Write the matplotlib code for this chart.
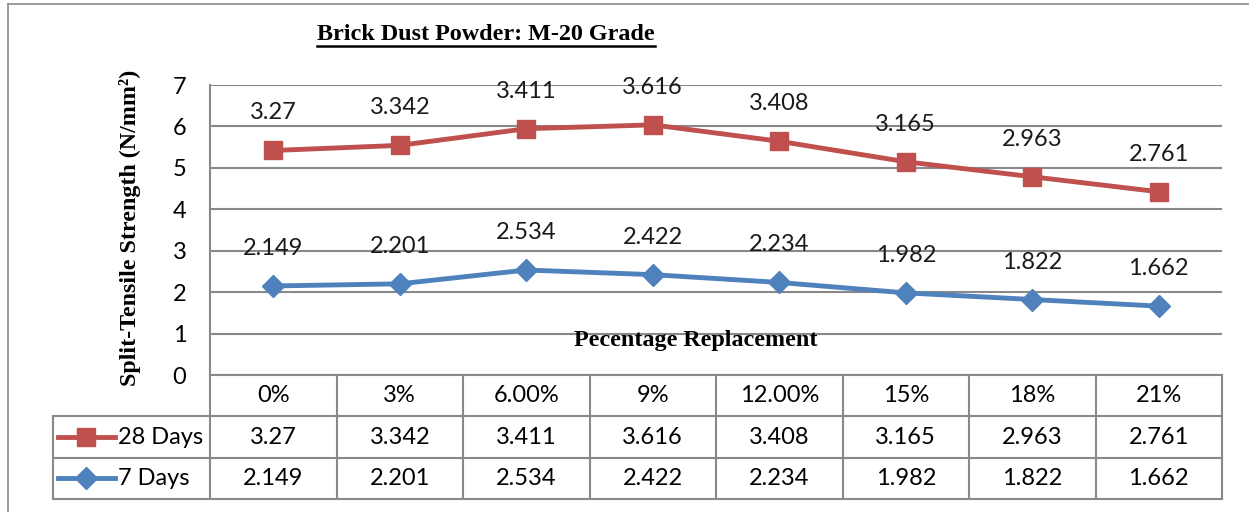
import numpy as np
import matplotlib
matplotlib.use("Agg")
import matplotlib.pyplot as plt
from matplotlib.lines import Line2D

# data
categorias = ["0%", "3%", "6.00%", "9%", "12.00%", "15%", "18%", "21%"]
dias_28 = [3.27, 3.342, 3.411, 3.616, 3.408, 3.165, 2.963, 2.761]
dias_7 = [2.149, 2.201, 2.534, 2.422, 2.234, 1.982, 1.822, 1.662]
series_nomes = ["28 Days", "7 Days"]

VERMELHO = "#C0504D"
AZUL = "#4F81BD"
CINZA = "#898989"
W, H = 1249, 512

sans = ["Lato", "DejaVu Sans"]
serif = ["Liberation Serif", "DejaVu Serif"]

fig = plt.figure(figsize=(W / 100, H / 100), dpi=100)

def fx(px):
    return px / W

def fy(py):
    return 1 - py / H

# borda externa do grafico (so aparecem topo e esquerda)
fig.add_artist(Line2D([fx(8), fx(8)], [fy(4), fy(H + 5)], color=CINZA, lw=1.2))
fig.add_artist(Line2D([fx(8), fx(W + 5)], [fy(4), fy(4)], color=CINZA, lw=1.2))

# area do grafico
x0, x1, y_top, y_bot = 210, 1222, 85, 375
ax = fig.add_axes([fx(x0), fy(y_bot), fx(x1 - x0), (y_bot - y_top) / H])
x = np.arange(len(categorias))
empilhado = np.array(dias_7) + np.array(dias_28)

ax.plot(x, dias_7, color=AZUL, lw=3.5, marker="D", markersize=11, zorder=3)
ax.plot(x, empilhado, color=VERMELHO, lw=3.5, marker="s", markersize=13, zorder=3)

for xi, yi, v in zip(x, empilhado, dias_28):
    ax.annotate(f"{v:g}", (xi, yi), xytext=(0, 27), textcoords="offset points",
                ha="center", va="center", fontsize=17, family=sans, color="#1a1a1a")
for xi, yi, v in zip(x, dias_7, dias_7):
    ax.annotate(f"{v:g}", (xi, yi), xytext=(0, 27), textcoords="offset points",
                ha="center", va="center", fontsize=17, family=sans, color="#1a1a1a")

ax.set_xlim(-0.5, len(categorias) - 0.5)
ax.set_ylim(0, 7)
ax.set_yticks(range(0, 8))
ax.set_xticks([])
ax.grid(axis="y", color=CINZA, lw=1.5)
ax.set_axisbelow(True)
for s in ["top", "right", "bottom"]:
    ax.spines[s].set_visible(False)
ax.spines["left"].set_color(CINZA)
ax.spines["left"].set_linewidth(1.5)
ax.tick_params(axis="y", length=0, pad=17, labelsize=17)
for lbl in ax.get_yticklabels():
    lbl.set_family(sans)

ax.text(0.48, 0.118, "Pecentage Replacement", transform=ax.transAxes, ha="center",
        va="center", fontsize=17.4, fontweight="bold", family=serif)

fig.text(fx(130), fy(228), "Split-Tensile Strength (N/mm²)", rotation=90,
         ha="center", va="center", fontsize=17.3, fontweight="bold", family=serif)

titulo = fig.text(fx(486), fy(34), "Brick Dust Powder: M-20 Grade", ha="center",
                  va="center", fontsize=17.4, fontweight="bold", family=serif)

# tabela de dados
t_bot = 499
tab = fig.add_axes([fx(x0), fy(t_bot), fx(x1 - x0), (t_bot - y_bot) / H])
tab.set_xlim(-0.5, len(categorias) - 0.5)
tab.set_ylim(3, 0)
tab.axis("off")
col_w = (x1 - x0) / len(categorias)

def tx(px):
    return (px - x0) / col_w - 0.5

esq = tx(53)
kw = dict(color=CINZA, lw=1.5, clip_on=False)
tab.plot([-0.5, 7.5], [0, 0], **kw)
for r in [1, 2, 3]:
    tab.plot([esq, 7.5], [r, r], **kw)
for c in range(len(categorias) + 1):
    tab.plot([c - 0.5, c - 0.5], [0, 3], **kw)
tab.plot([esq, esq], [1, 3], **kw)

for i, c in enumerate(categorias):
    tab.text(i, 0.5, c, ha="center", va="center", fontsize=17, family=sans)
for i, (a, b) in enumerate(zip(dias_28, dias_7)):
    tab.text(i, 1.5, f"{a:g}", ha="center", va="center", fontsize=17, family=sans)
    tab.text(i, 2.5, f"{b:g}", ha="center", va="center", fontsize=17, family=sans)

for r, (nome, cor, mk, ms) in enumerate(zip(series_nomes, [VERMELHO, AZUL], ["s", "D"], [13, 11])):
    tab.plot([tx(58), tx(115)], [r + 1.5, r + 1.5], color=cor, lw=3.5, marker=None, clip_on=False)
    tab.plot([tx(86.5)], [r + 1.5], color=cor, marker=mk, markersize=ms, clip_on=False)
    tab.text(tx(118), r + 1.5, nome, ha="left", va="center", fontsize=17, family=sans)

# sublinhado do titulo
fig.canvas.draw()
bb = titulo.get_window_extent()
yl = (bb.y0 - 1) / H
fig.add_artist(Line2D([bb.x0 / W, bb.x1 / W], [yl, yl], color="black", lw=1.8))

fig.savefig("out.png", dpi=100)
